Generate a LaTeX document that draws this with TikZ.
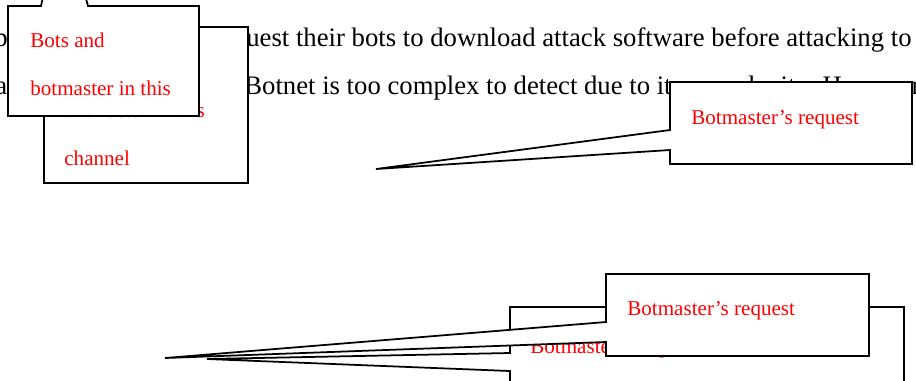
\documentclass[tikz,border=0pt]{standalone}
\usepackage{fontspec}
\setmainfont{Liberation Serif}
\usepackage{tikz}

\begin{document}
\begin{tikzpicture}[
    x=0.02cm, y=-0.02cm,
    body/.style={anchor=base west, inner sep=0pt, font=\fontsize{15.2}{18}\selectfont},
    note/.style={anchor=base west, inner sep=0pt, text=red, font=\fontsize{12}{14}\selectfont},
    callout/.style={draw, fill=white, line width=1pt, line join=miter},
]
\useasboundingbox (0,0) rectangle (916,380);
\clip (0,0) rectangle (916,380);
\fill[white] (0,0) rectangle (916,380);

% page text behind the callouts
\node[body] (lineb) at (-6,46) {b};
\node[body] (linebrest) at (246,46) {uest their bots to download attack software before attacking to};
\node[body] (linea) at (-5,94) {a};
\node[body] (linearest) at (244,94) {Botnet is too complex to detect due to its complexity. However,};

% channel callouts
\filldraw[callout] (44,27) rectangle (248,183);
\node[note] (chanbackA) at (64,69) {Bots and};
\node[note] (chanbackB) at (64,117) {botmaster in this};
\node[note] (chanbackC) at (64,165) {channel};

\coordinate (chantip) at (62,-90);
\filldraw[callout] (8,6) -- (41,6) -- (chantip) -- (88,6) -- (199,6) -- (199,116) -- (8,116) -- cycle;
\node[note] (chanA) at (30,47) {Bots and};
\node[note] (chanB) at (30,95) {botmaster in this};

% request callouts
\coordinate (reqtip) at (376,169);
\filldraw[callout] (670,82) -- (912,82) -- (912,164) -- (670,164) -- (670,150) -- (reqtip) -- (670,130) -- cycle;
\node[note] (req) at (691,124) {Botmaster’s request};

\coordinate (reqbacktip) at (207,359);
\filldraw[callout] (510,307) -- (904,307) -- (904,420) -- (510,420) -- (510,371) -- (reqbacktip) -- (510,353) -- cycle;
\node[note] (reqback) at (530,353) {Botmaster’s request};

\coordinate (reqfronttip) at (165,358);
\filldraw[callout] (606,274) -- (869,274) -- (869,356) -- (606,356) -- (606,342) -- (reqfronttip) -- (606,322) -- cycle;
\node[note] (reqfront) at (627,315) {Botmaster’s request};
\end{tikzpicture}
\end{document}
